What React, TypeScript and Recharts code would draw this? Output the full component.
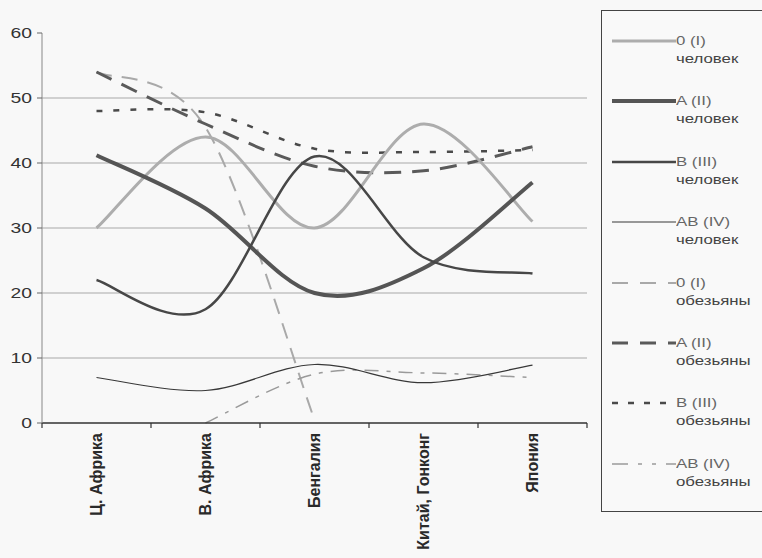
import React from 'react';
import { LineChart, Line, XAxis, YAxis, ReferenceLine, Legend } from 'recharts';

const categories = ['Ц. Африка', 'В. Африка', 'Бенгалия', 'Китай, Гонконг', 'Япония'];

const human0 = [30, 44, 30, 46, 31];
const humanA = [41.2, 33, 20, 23.8, 37];
const humanB = [22, 17.5, 41, 25.5, 23];
const humanAB = [7, 5, 9, 6.2, 8.9];
const monkey0 = [54, 45.5, 0.5, null, null];
const monkeyA = [54, 46, 39.5, 38.8, 42.5];
const monkeyB = [48, 47.8, 42.2, 41.7, 42];
const monkeyAB = [null, 0, 7.5, 7.7, 7];

const yTicks = [0, 10, 20, 30, 40, 50, 60];
const gridValues = [10, 20, 30, 40, 50];

type S = {
  key: string;
  values: (number | null)[];
  label: string;
  sub: string;
  color: string;
  width: number;
  dash?: string;
  legendDash?: string;
};

const series: S[] = [
  { key: 'm0', values: monkey0, label: '0 (I)', sub: 'обезьяны', color: '#a9a9a9', width: 2, dash: '16 10', legendDash: '16 12' },
  { key: 'mA', values: monkeyA, label: 'A (II)', sub: 'обезьяны', color: '#5a5a5a', width: 3, dash: '17 11', legendDash: '16 12' },
  { key: 'mB', values: monkeyB, label: 'B (III)', sub: 'обезьяны', color: '#4a4a4a', width: 2.5, dash: '6 11', legendDash: '6 10' },
  { key: 'mAB', values: monkeyAB, label: 'AB (IV)', sub: 'обезьяны', color: '#9a9a9a', width: 1.5, dash: '14 8 4 8', legendDash: '16 10 4 10 4 10' },
  { key: 'h0', values: human0, label: '0 (I)', sub: 'человек', color: '#adadad', width: 3 },
  { key: 'hA', values: humanA, label: 'A (II)', sub: 'человек', color: '#555555', width: 4 },
  { key: 'hB', values: humanB, label: 'B (III)', sub: 'человек', color: '#474747', width: 2.5 },
  { key: 'hAB', values: humanAB, label: 'AB (IV)', sub: 'человек', color: '#383838', width: 1.2 },
];

const legendOrder = ['h0', 'hA', 'hB', 'hAB', 'm0', 'mA', 'mB', 'mAB'];

const data = categories.map((region, i) => {
  const row: Record<string, string | number | null> = { region };
  series.forEach((s) => {
    row[s.key] = s.values[i];
  });
  return row;
});

// Excel-style smoothed line (uniform Catmull-Rom as cubic Bezier)
const excelSmooth: any = (context: any) => {
  let pts: [number, number][] = [];
  return {
    areaStart() {},
    areaEnd() {},
    lineStart() {
      pts = [];
    },
    point(x: number, y: number) {
      pts.push([+x, +y]);
    },
    lineEnd() {
      if (!pts.length) return;
      context.moveTo(pts[0][0], pts[0][1]);
      if (pts.length === 1) {
        context.lineTo(pts[0][0], pts[0][1]);
        return;
      }
      for (let i = 0; i < pts.length - 1; i++) {
        const p0 = pts[i - 1] || pts[i];
        const p1 = pts[i];
        const p2 = pts[i + 1];
        const p3 = pts[i + 2] || p2;
        context.bezierCurveTo(
          p1[0] + (p2[0] - p0[0]) / 6,
          p1[1] + (p2[1] - p0[1]) / 6,
          p2[0] - (p3[0] - p1[0]) / 6,
          p2[1] - (p3[1] - p1[1]) / 6,
          p2[0],
          p2[1]
        );
      }
    },
  };
};

const FONT = '"Liberation Sans", Arial, sans-serif';

const YTick = (props: any) => {
  const { x, y, payload } = props;
  return (
    <g transform={`translate(${x},${y}) scale(1.38,1)`}>
      <text x={0} y={0} dy="0.36em" textAnchor="end" fontSize={14} fontFamily={FONT} fill="#333">
        {payload.value}
      </text>
    </g>
  );
};

const XTick = (props: any) => {
  const { x, y, payload, index, width } = props;
  const half = payload && payload.offset ? payload.offset : width / categories.length / 2;
  const axisY = y - 5;
  return (
    <g>
      {index === 0 ? (
        <line x1={x - half} x2={x - half} y1={axisY} y2={axisY + 5} stroke="#333" strokeWidth={1.2} />
      ) : null}
      <line x1={x + half} x2={x + half} y1={axisY} y2={axisY + 5} stroke="#333" strokeWidth={1.2} />
      <g transform={`translate(${x},${y + 5})`}>
        <text
          transform="rotate(-90)"
          x={0}
          y={0}
          dy="0.36em"
          textAnchor="end"
          fontSize={16}
          fontWeight="bold"
          fontFamily={FONT}
          fill="#2a2a2a"
        >
          {payload.value}
        </text>
      </g>
    </g>
  );
};

const LegendBox = () => {
  const rowH = 60.4;
  return (
    <div
      style={{
        position: 'relative',
        width: 175,
        height: 502,
        border: '1.5px solid #444',
        boxSizing: 'border-box',
        background: '#f9f9f9',
        fontFamily: FONT,
      }}
    >
      {legendOrder.map((k, i) => {
        const s = series.find((q) => q.key === k)!;
        const top = 21 + i * rowH;
        return (
          <div key={k} style={{ position: 'absolute', left: 0, top, width: 175, height: 40 }}>
            <svg width={64} height={10} style={{ position: 'absolute', left: 10, top: 4 }}>
              <line
                x1={0}
                x2={64}
                y1={5}
                y2={5}
                stroke={s.color}
                strokeWidth={s.width}
                strokeDasharray={s.legendDash}
              />
            </svg>
            <div
              style={{
                position: 'absolute',
                left: 74,
                top: 0,
                fontSize: 12,
                lineHeight: '18px',
                color: '#666',
                transform: 'scaleX(1.4)',
                transformOrigin: 'left top',
                whiteSpace: 'nowrap',
              }}
            >
              <div>{s.label}</div>
              <div style={{ color: '#444' }}>{s.sub}</div>
            </div>
          </div>
        );
      })}
    </div>
  );
};

export default function App() {
  return (
    <div
      style={{
        position: 'absolute',
        left: 0,
        top: 0,
        width: 762,
        height: 558,
        overflow: 'hidden',
        background: '#f8f8f8',
      }}
    >
      <LineChart width={762} height={558} data={data} margin={{ top: 33, right: 0, bottom: 0, left: 0 }}>
        {gridValues.map((v) => (
          <ReferenceLine key={v} y={v} stroke="#a8a8a8" strokeWidth={1} />
        ))}
        <XAxis
          dataKey="region"
          scale="band"
          interval={0}
          height={135}
          tickSize={5}
          tickMargin={0}
          tickLine={false}
          axisLine={{ stroke: '#333', strokeWidth: 1.5 }}
          tick={<XTick />}
        />
        <YAxis
          domain={[0, 60]}
          ticks={yTicks}
          width={42}
          tickSize={5}
          tickMargin={5}
          axisLine={{ stroke: '#888', strokeWidth: 1 }}
          tickLine={{ stroke: '#666' }}
          tick={<YTick />}
          interval={0}
        />
        <Legend
          layout="vertical"
          align="right"
          verticalAlign="top"
          wrapperStyle={{ left: 601, top: 10 }}
          content={<LegendBox />}
        />
        {series.map((s) => (
          <Line
            key={s.key}
            type={excelSmooth}
            dataKey={s.key}
            stroke={s.color}
            strokeWidth={s.width}
            strokeDasharray={s.dash}
            dot={false}
            activeDot={false}
            isAnimationActive={false}
          />
        ))}
      </LineChart>
    </div>
  );
}
